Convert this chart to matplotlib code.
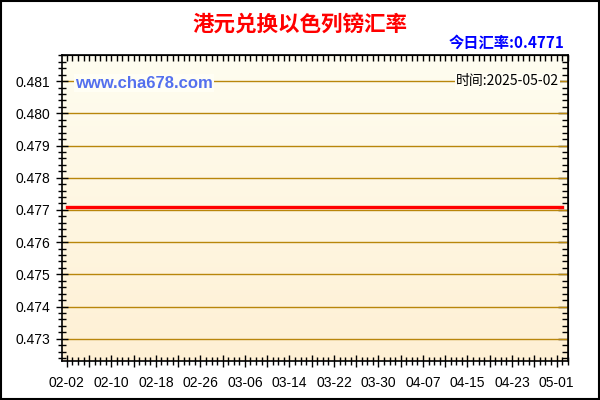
import matplotlib
matplotlib.use('Agg')
import matplotlib.pyplot as plt
import matplotlib.dates as mdates
import numpy as np
from matplotlib.ticker import FixedLocator, MultipleLocator

# data: a flat rate over the whole period
dates = ['2025-02-02', '2025-05-02']
rates = [0.4771, 0.4771]
xlabels = ['02-02', '02-10', '02-18', '02-26', '03-06', '03-14',
           '03-22', '03-30', '04-07', '04-15', '04-23', '05-01']
ylabels = [0.473, 0.474, 0.475, 0.476, 0.477, 0.478, 0.479, 0.480, 0.481]

title = '港元兑换以色列镑汇率'
today = '今日汇率:0.4771'
site = 'www.cha678.com'
stamp = '时间:2025-05-02'

plt.rcParams['font.family'] = ['Liberation Sans', 'Noto Sans CJK SC', 'DejaVu Sans']

x = mdates.datestr2num(dates)
xt = mdates.datestr2num(['2025-' + s for s in xlabels])

fig = plt.figure(figsize=(6, 4), dpi=100)
fig.patch.set_facecolor('white')
ax = fig.add_axes([0.104, 0.0975, 0.843, 0.765])

x0 = x[0] - 0.8
x1 = x[0] + 90.1
ymin, ymax = 0.47231, 0.48181

# cream gradient background
grad = np.linspace(0, 1, 256).reshape(-1, 1)
top = np.array([255, 253, 240]) / 255
bot = np.array([254, 240, 212]) / 255
img = top + (bot - top) * grad[:, :, None]
ax.imshow(img, extent=[x0, x1, ymin, ymax], aspect='auto', origin='upper', zorder=0)

for v in ylabels:
    ax.axhline(v, color='#B8860B', lw=1.0, zorder=1)

ax.plot(x, rates, color='#FF0000', lw=2.4, solid_capstyle='projecting', zorder=3)

ax.set_xlim(x0, x1)
ax.set_ylim(ymin, ymax)

major = np.arange(xt[0], x1, 4)
ax.set_xticks(major)
ax.set_xticklabels([mdates.num2date(v).strftime('%m-%d') if i % 2 == 0 else ''
                    for i, v in enumerate(major)])
ax.xaxis.set_minor_locator(MultipleLocator(1))
ax.yaxis.set_major_locator(FixedLocator(ylabels))
ax.yaxis.set_minor_locator(MultipleLocator(0.0002))
ax.set_yticklabels(['%.3f' % v for v in ylabels])

ax.tick_params(which='major', direction='inout', length=9, width=1, labelsize=10, color='black')
ax.tick_params(which='minor', direction='inout', length=6, width=1, color='black')
ax.tick_params(axis='x', which='major', pad=6)
ax.tick_params(axis='y', which='major', pad=4)

# inner ticks on top and right
axt = ax.secondary_xaxis('top')
axt.xaxis.set_major_locator(MultipleLocator(1))
axt.tick_params(direction='in', length=4, width=1, labeltop=False)
axr = ax.secondary_yaxis('right')
axr.yaxis.set_major_locator(FixedLocator(ylabels))
axr.yaxis.set_minor_locator(MultipleLocator(0.0002))
axr.tick_params(which='major', direction='in', length=7, width=1, labelright=False)
axr.tick_params(which='minor', direction='in', length=4, width=1)

for s in ax.spines.values():
    s.set_linewidth(1.2)
    s.set_color('black')

fig.text(0.5, 0.94, title, ha='center', va='center', color='#FF0000',
         fontsize=15.5, fontweight='bold', family=['Noto Sans CJK SC', 'DejaVu Sans'])
fig.text(0.94, 0.893, today, ha='right', va='center', color='#0000FF',
         fontsize=11, fontweight='bold', family=['Noto Sans CJK SC', 'DejaVu Sans'])
ax.text(0.025, 0.908, site, transform=ax.transAxes, ha='left', va='center',
        color='#5470EE', fontsize=12, fontweight='bold',
        bbox=dict(facecolor='#FFFEF4', edgecolor='none', pad=1), zorder=4)
ax.text(0.982, 0.914, stamp, transform=ax.transAxes, ha='right', va='center',
        color='black', fontsize=10, family=['Noto Sans CJK SC', 'DejaVu Sans'],
        bbox=dict(facecolor='#FFFEF4', edgecolor='none', pad=1), zorder=4)

# outer black frame
fig.patches.append(plt.Rectangle((0.002, 0.003), 0.996, 0.994, transform=fig.transFigure,
                                 fill=False, edgecolor='black', lw=1.5))

fig.savefig('out.png', dpi=100)
